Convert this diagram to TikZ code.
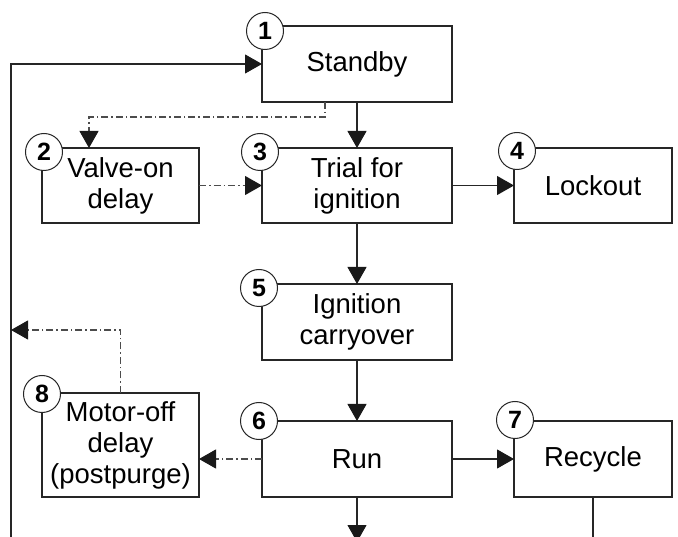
\documentclass[tikz,border=0pt]{standalone}
\usepackage{fontspec}
\setmainfont{Liberation Sans}
\usetikzlibrary{arrows.meta}
\begin{document}
\begin{tikzpicture}[x=1pt,y=-1pt,
  box/.style={draw=black!85, line width=1.1pt, rectangle, inner sep=0pt, outer sep=0pt,
    anchor=north west, align=center, font=\fontsize{27.5}{31}\selectfont},
  num/.style={draw=black!85, line width=1.0pt, circle, fill=white, minimum size=37pt,
    inner sep=0pt, font=\fontsize{25}{25}\selectfont\bfseries},
  conn/.style={draw=black!85, line width=1.1pt},
  flow/.style={conn, -{Triangle[length=17pt,width=19pt,color=black!90]}},
  alt/.style={flow, draw=black!70, dash pattern=on 7pt off 3pt on 1.5pt off 3pt}]
\useasboundingbox (0,0) rectangle (678,537);

% boxes
\node[box, minimum width=190pt, minimum height=76pt] (b1) at (262,26) {Standby};
\node[box, minimum width=157pt, minimum height=75pt] (b2) at (42,148) {Valve-on\\delay};
\node[box, minimum width=190pt, minimum height=75pt] (b3) at (262,148) {Trial for\\ignition};
\node[box, minimum width=158pt, minimum height=75pt] (b4) at (514,148) {Lockout};
\node[box, minimum width=190pt, minimum height=76pt] (b5) at (262,284) {Ignition\\carryover};
\node[box, minimum width=190pt, minimum height=76pt] (b6) at (262,421) {Run};
\node[box, minimum width=158pt, minimum height=76pt] (b7) at (514,421) {Recycle};
\node[box, minimum width=157pt, minimum height=104pt] (b8) at (42,393) {Motor-off\\delay\\(postpurge)};

% number circles
\node[num] (n1) at ([shift={(3,5)}]b1.north west) {1};
\node[num] (n2) at ([shift={(2,4)}]b2.north west) {2};
\node[num] (n3) at ([shift={(-2,4)}]b3.north west) {3};
\node[num] (n4) at ([shift={(3,3)}]b4.north west) {4};
\node[num] (n5) at ([shift={(-3,4)}]b5.north west) {5};
\node[num] (n6) at ([shift={(-3,0)}]b6.north west) {6};
\node[num] (n7) at ([shift={(1,-1)}]b7.north west) {7};
\node[num] (n8) at ([shift={(0,1)}]b8.north west) {8};

% free ends
\coordinate (loopbot) at (11,560);
\coordinate (loopin) at (11,330);
\coordinate (runout) at (357,542);
\coordinate (recout) at (593,560);

% connectors
\draw[flow] (loopbot) |- (b1.west);
\draw[alt] ([xshift=-32pt]b1.south) -- ++(0,15) -| ([xshift=-31.5pt]b2.north);
\draw[flow] (b1) -- (b3);
\draw[alt] (b2) -- (b3);
\draw[flow] (b3) -- (b4);
\draw[flow] (b3) -- (b5);
\draw[flow] (b5) -- (b6);
\draw[flow] (b6) -- (b7);
\draw[alt] (b6.west) -- (b6.west -| b8.east);
\draw[alt] (b8.north) |- (loopin);
\draw[flow] (b6.south) -- (runout);
\draw[conn] (b7.south) -- (recout);
\end{tikzpicture}
\end{document}
